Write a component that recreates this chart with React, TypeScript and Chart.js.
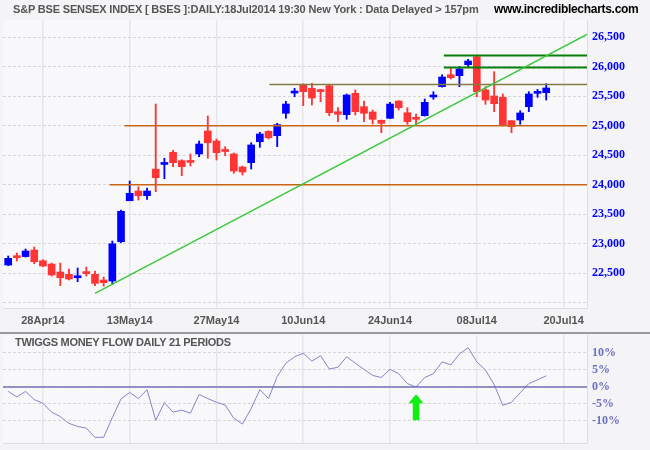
import React, { useEffect, useRef } from 'react';
import { Chart, registerables } from 'chart.js';
Chart.register(...registerables);

// ---- data ----
const tickIndex = [4, 14, 24, 34, 44, 54, 64];
const tickLabels = ['28Apr14', '13May14', '27May14', '10Jun14', '24Jun14', '08Jul14', '20Jul14'];
const priceTicks = [22000, 22500, 23000, 23500, 24000, 24500, 25000, 25500, 26000, 26500];
const tmfTicks = [-10, -5, 0, 5, 10];

const opens = [22640, 22775, 22783, 22895, 22713, 22657, 22522, 22483, 22425, 22505, 22483, 22386, 22369, 23035, 23730, 23895, 23815, 24266, 24345, 24551, 24409, 24400, 24522, 24912, 24742, 24585, 24522, 24302, 24375, 24730, 24907, 24832, 25212, 25555, 25697, 25636, 25590, 25680, 25239, 25188, 25551, 25324, 25234, 25093, 25127, 25420, 25222, 25120, 25171, 25488, 25663, 25866, 25849, 26036, 26171, 25607, 25505, 25483, 25087, 25098, 25324, 25550, 25561];
const highs = [22793, 22844, 22912, 22946, 22730, 22674, 22674, 22573, 22590, 22607, 22539, 22437, 23047, 23573, 24064, 23968, 23945, 25369, 24449, 24585, 24425, 24522, 24742, 25166, 24776, 24646, 24540, 24318, 24713, 24890, 24917, 25042, 25415, 25636, 25710, 25720, 25619, 25690, 25307, 25539, 25607, 25420, 25268, 25098, 25398, 25425, 25307, 25200, 25454, 25578, 25866, 25991, 26002, 26127, 26183, 25663, 25917, 25539, 25087, 25256, 25578, 25619, 25714];
const lows = [22630, 22708, 22775, 22663, 22612, 22454, 22290, 22386, 22357, 22454, 22290, 22284, 22313, 23020, 23730, 23742, 23754, 23883, 24103, 24307, 24154, 24318, 24476, 24449, 24420, 24493, 24195, 24166, 24268, 24635, 24776, 24646, 25127, 25493, 25341, 25352, 25408, 25171, 25069, 25110, 25183, 25069, 25030, 24883, 25120, 25268, 25025, 25025, 25165, 25449, 25655, 25793, 25663, 25991, 25493, 25364, 25239, 24997, 24883, 25025, 25239, 25483, 25437];
const closes = [22754, 22765, 22878, 22697, 22624, 22471, 22425, 22403, 22440, 22495, 22330, 22341, 23000, 23551, 23856, 23815, 23895, 24120, 24355, 24375, 24307, 24380, 24691, 24713, 24544, 24565, 24234, 24217, 24675, 24861, 24798, 25019, 25369, 25565, 25578, 25471, 25580, 25222, 25195, 25522, 25239, 25212, 25110, 25042, 25369, 25307, 25069, 25110, 25398, 25498, 25827, 25815, 25963, 26098, 25578, 25437, 25375, 25019, 24985, 25217, 25539, 25560, 25641];

const tmf = [-1.3, -2.9, -1.3, -3.7, -4.8, -7.4, -8.7, -10.7, -11.6, -12.1, -14.8, -14.8, -9.0, -3.5, -1.6, -3.4, -0.8, -9.8, -4.6, -7.4, -6.8, -7.7, -2.2, -3.4, -4.5, -5.3, -9.2, -10.9, -6.3, -0.8, -3.4, 3.1, 7.0, 8.9, 9.9, 7.6, 9.2, 5.3, 5.8, 8.9, 7.0, 5.2, 3.4, 2.8, 5.2, 3.9, 1.0, 0.0, 2.8, 3.9, 7.4, 6.5, 9.7, 11.6, 7.4, 5.0, 0.7, -5.4, -4.5, -1.7, 1.0, 2.1, 3.3];

const levelValues = [24000, 25000, 25700, 25990, 26190];
const levelStarts = [11.7, 13.4, 30.1, 50.2, 50.2];
const levelColors = ['#C86414', '#C86414', '#857A42', '#0A7E0A', '#0A7E0A'];

const trendX = [10, 66.7];
const trendY = [22161, 26549];

const arrowIndex = 47;
const arrowTop = -2.1;
const arrowBottom = -9.8;

const X_MIN = -0.6;
const X_MAX = 66.7;
const UP = '#0000FF';
const DOWN = '#FF3535';

const bgPlugin = {
  id: 'bgPlugin',
  beforeDraw(chart: any) {
    const { ctx, chartArea } = chart;
    ctx.save();
    ctx.fillStyle = '#F8F8FB';
    ctx.fillRect(chartArea.left, chartArea.top, chartArea.right - chartArea.left, chartArea.bottom - chartArea.top);
    ctx.restore();
  },
};

const arrowPlugin = {
  id: 'arrowPlugin',
  afterDatasetsDraw(chart: any) {
    const { ctx, scales } = chart;
    const x = scales.x.getPixelForValue(arrowIndex);
    const yt = scales.y.getPixelForValue(arrowTop);
    const yb = scales.y.getPixelForValue(arrowBottom);
    const head = 9;
    ctx.save();
    ctx.fillStyle = '#11EE11';
    ctx.beginPath();
    ctx.moveTo(x, yt);
    ctx.lineTo(x + 7.5, yt + head);
    ctx.lineTo(x + 3.3, yt + head);
    ctx.lineTo(x + 3.3, yb);
    ctx.lineTo(x - 3.3, yb);
    ctx.lineTo(x - 3.3, yt + head);
    ctx.lineTo(x - 7.5, yt + head);
    ctx.closePath();
    ctx.fill();
    ctx.restore();
  },
};

const xTicksBuild = (s: any) => {
  s.ticks = tickIndex.map((v) => ({ value: v }));
};

export default function App() {
  const topRef = useRef<HTMLCanvasElement>(null);
  const botRef = useRef<HTMLCanvasElement>(null);

  useEffect(() => {
    document.body.style.margin = '0';
    const idx = opens.map((_, i) => i);
    const colors = idx.map((i) => (closes[i] >= opens[i] ? UP : DOWN));

    const levelSets = levelValues.map((v, k) => ({
      type: 'line',
      data: [
        { x: levelStarts[k], y: v },
        { x: X_MAX, y: v },
      ],
      borderColor: levelColors[k],
      borderWidth: k >= 3 ? 2 : 1.6,
      pointRadius: 0,
      order: 1,
    }));

    const top = new Chart(topRef.current!, {
      type: 'bar',
      data: {
        datasets: [
          {
            type: 'bar',
            data: idx.map((i) => ({ x: i, y: [lows[i], highs[i]] })),
            backgroundColor: colors,
            barThickness: 1.2,
            grouped: false,
            order: 3,
          } as any,
          {
            type: 'bar',
            data: idx.map((i) => ({ x: i, y: [opens[i], closes[i]] })),
            backgroundColor: colors,
            barThickness: 7,
            minBarLength: 2,
            grouped: false,
            order: 2,
          } as any,
          ...(levelSets as any[]),
          {
            type: 'line',
            data: [
              { x: trendX[0], y: trendY[0] },
              { x: trendX[1], y: trendY[1] },
            ],
            borderColor: '#3CC83C',
            borderWidth: 1.5,
            pointRadius: 0,
            order: 0,
          } as any,
        ],
      },
      options: {
        responsive: false,
        animation: false,
        events: [],
        layout: { padding: { top: 20, left: 3, right: 0, bottom: 0 } },
        plugins: { legend: { display: false }, tooltip: { enabled: false } },
        scales: {
          x: {
            type: 'linear',
            offset: false,
            min: X_MIN,
            max: X_MAX,
            afterBuildTicks: xTicksBuild,
            afterFit: (s: any) => {
              s.height = 26;
            },
            ticks: {
              autoSkip: false,
              maxRotation: 0,
              padding: 6,
              color: '#555555',
              font: { family: 'Liberation Sans, Arial', size: 11, weight: 'bold' },
              callback: (v: any) => {
                const k = tickIndex.indexOf(Number(v));
                return k >= 0 ? tickLabels[k] : '';
              },
            },
            grid: { offset: false, color: '#E6E6EC', lineWidth: 1.5, drawTicks: false },
            border: { display: true, color: '#DDDDE2' },
          },
          y: {
            type: 'linear',
            position: 'right',
            min: 21912,
            max: 26793,
            afterBuildTicks: (s: any) => {
              s.ticks = priceTicks.map((v) => ({ value: v }));
            },
            afterFit: (s: any) => {
              s.width = 63;
            },
            ticks: {
              padding: 5,
              color: '#0000FF',
              font: { family: 'Liberation Serif, Times New Roman', size: 12, weight: 'bold' },
              callback: (v: any) => (Number(v) === 22000 ? '' : Number(v).toLocaleString('en-US')),
            },
            grid: { color: '#D6D6DA', lineWidth: 1, drawTicks: false },
            border: { display: true, color: '#DDDDE2', dash: [3, 2] },
          },
        },
      },
      plugins: [bgPlugin],
    } as any);

    const bot = new Chart(botRef.current!, {
      type: 'line',
      data: {
        datasets: [
          {
            data: [
              { x: X_MIN, y: 0 },
              { x: X_MAX, y: 0 },
            ],
            borderColor: '#7272B4',
            borderWidth: 1.5,
            pointRadius: 0,
          },
          {
            data: idx.map((i) => ({ x: i, y: tmf[i] })),
            borderColor: '#8585CC',
            borderWidth: 1,
            pointRadius: 0,
            tension: 0,
          },
        ],
      },
      options: {
        responsive: false,
        animation: false,
        events: [],
        layout: { padding: { top: 1, left: 3, right: 0, bottom: 7 } },
        plugins: { legend: { display: false }, tooltip: { enabled: false } },
        scales: {
          x: {
            type: 'linear',
            offset: false,
            min: X_MIN,
            max: X_MAX,
            afterBuildTicks: xTicksBuild,
            afterFit: (s: any) => {
              s.height = 0;
              s.paddingLeft = 0;
              s.paddingRight = 0;
            },
            ticks: { display: false },
            grid: { color: '#E6E6EC', lineWidth: 1.5, drawTicks: false },
            border: { display: true, color: '#DDDDE2' },
          },
          y: {
            type: 'linear',
            position: 'right',
            min: -16.47,
            max: 15.29,
            afterBuildTicks: (s: any) => {
              s.ticks = tmfTicks.map((v) => ({ value: v }));
            },
            afterFit: (s: any) => {
              s.width = 63;
              s.paddingTop = 0;
              s.paddingBottom = 0;
            },
            ticks: {
              padding: 5,
              color: '#6E6EC2',
              font: { family: 'Liberation Serif, Times New Roman', size: 12, weight: 'bold' },
              callback: (v: any) => `${v}%`,
            },
            grid: { color: '#D6D6DA', lineWidth: 1, drawTicks: false },
            border: { display: true, color: '#DDDDE2', dash: [3, 2] },
          },
        },
      },
      plugins: [bgPlugin, arrowPlugin],
    } as any);

    return () => {
      top.destroy();
      bot.destroy();
    };
  }, []);

  return (
    <div
      style={{
        position: 'fixed',
        left: 0,
        top: 0,
        width: 650,
        height: 450,
        background: '#F4F4F6',
        overflow: 'hidden',
        fontFamily: 'Liberation Sans, Arial, sans-serif',
      }}
    >
      <canvas ref={topRef} width={650} height={334} style={{ position: 'absolute', left: 0, top: 0 }} />
      <canvas ref={botRef} width={650} height={116} style={{ position: 'absolute', left: 0, top: 334 }} />
      <div
        style={{
          position: 'absolute',
          left: 13,
          top: 3,
          fontSize: 11,
          fontWeight: 'bold',
          color: '#555555',
          whiteSpace: 'nowrap',
          letterSpacing: -0.17,
        }}
      >
        S&amp;P BSE SENSEX INDEX [ BSES ]:DAILY:18Jul2014 19:30 New York : Data Delayed &gt; 157pm
      </div>
      <div
        style={{
          position: 'absolute',
          left: 494,
          top: 2,
          fontSize: 12,
          fontWeight: 'bold',
          color: '#000000',
          whiteSpace: 'nowrap',
          letterSpacing: -0.3,
        }}
      >
        www.incrediblecharts.com
      </div>
      <div style={{ position: 'absolute', left: 0, top: 332, width: 650, height: 2, background: '#9A9A9A' }} />
      <div
        style={{
          position: 'absolute',
          left: 15,
          top: 336,
          fontSize: 11,
          fontWeight: 'bold',
          color: '#555555',
          whiteSpace: 'nowrap',
          letterSpacing: -0.3,
        }}
      >
        TWIGGS MONEY FLOW DAILY 21 PERIODS
      </div>
    </div>
  );
}
